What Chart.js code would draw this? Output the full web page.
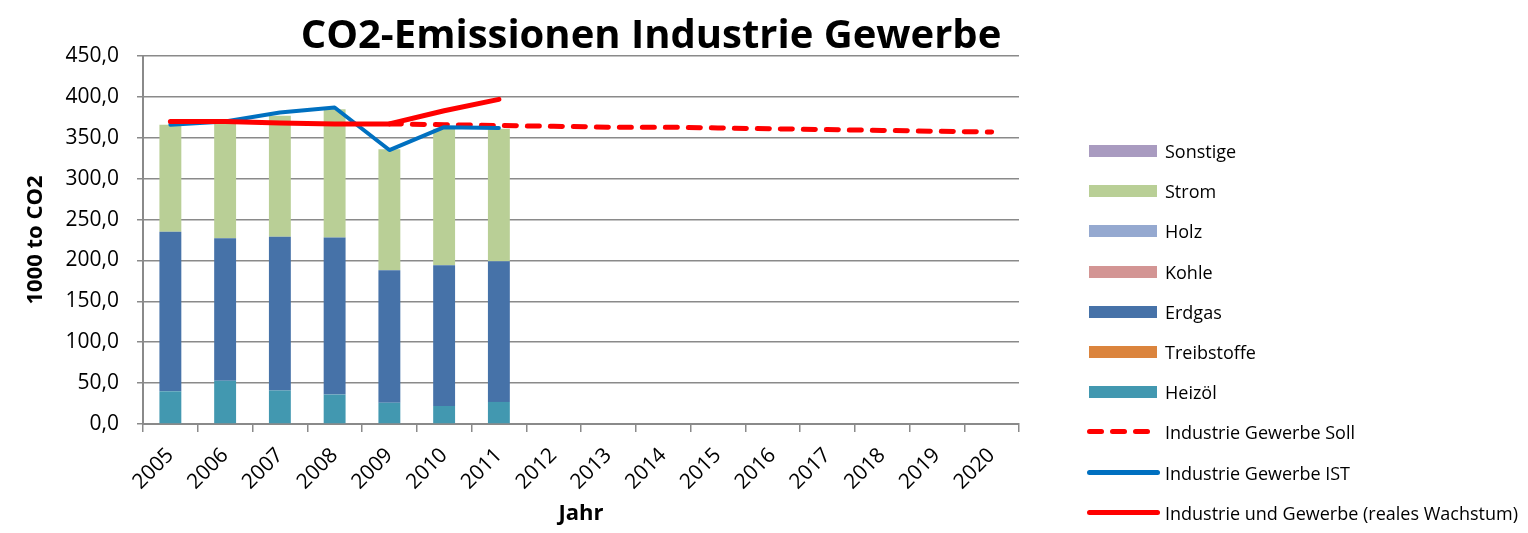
<!DOCTYPE html>
<html>
<head>
<meta charset="utf-8">
<script src="https://cdn.jsdelivr.net/npm/chart.js@4"></script>
<style>
    body { margin: 0; background: #fff; font-family: "Open Sans", sans-serif; }
    #wrap { position: relative; width: 1528px; height: 533px; }
    #title { position: absolute; left: 0; width: 1302px; top: 13px; line-height: 39px; text-align: center; font-weight: bold; font-size: 40px; color: #000; white-space: nowrap; }
    #legend { position: absolute; left: 1087px; top: 0; }
    .item { position: absolute; left: 0; height: 20px; white-space: nowrap; font-size: 18px; color: #000; }
    .item span { position: absolute; left: 78px; top: 0; line-height: 20px; }
    .swatch { position: absolute; left: 2px; top: 4px; width: 68px; height: 12px; }
    .line { position: absolute; left: 0; top: 7px; width: 73px; height: 5px; border-radius: 3px; }
    .dash { position: absolute; top: 7px; width: 17px; height: 5px; border-radius: 3px; }
</style>
</head>
<body>
<div id="wrap">
    <canvas id="co2Chart" width="1528" height="533"></canvas>
    <div id="title">CO2-Emissionen Industrie Gewerbe</div>
    <div id="legend"></div>
</div>
<script>
// Werte (1000 t CO2)
const years = ['2005', '2006', '2007', '2008', '2009', '2010', '2011', '2012', '2013', '2014', '2015', '2016', '2017', '2018', '2019', '2020'];
const heizoel = [40, 53, 41, 36, 26, 22, 27];
const treibstoffe = [0, 0, 0, 0, 0, 0, 0];
const erdgas = [195, 174, 188, 192, 162, 172, 172];
const kohle = [0, 0, 0, 0, 0, 0, 0];
const holz = [0, 0, 0, 0, 0, 0, 0];
const strom = [131, 143, 148, 157, 148, 167, 162];
const sonstige = [0, 0, 0, 0, 0, 0, 0];
const sollValues = [null, null, null, null, 367, 366, 365, 364, 363, 363, 362, 361, 360, 359, 358, 357];
const istValues = [366, 370, 381, 387, 335, 363, 362];
const realValues = [370, 370, 368, 367, 367, 383, 397];
const yTicks = [0, 50, 100, 150, 200, 250, 300, 350, 400, 450];

const gridColor = '#8a8a8a';
const fontName = 'Open Sans';

function barSet(label, data, color) {
    return {
        type: 'bar',
        label: label,
        data: data,
        backgroundColor: color,
        borderWidth: 0,
        stack: 'energie',
        order: 10,
        barPercentage: 0.4,
        categoryPercentage: 1
    };
}

function lineSet(label, data, color, width, dash, order) {
    return {
        type: 'line',
        label: label,
        data: data,
        borderColor: color,
        backgroundColor: color,
        borderWidth: width,
        borderDash: dash,
        borderCapStyle: 'round',
        borderJoinStyle: 'round',
        pointRadius: 0,
        tension: 0,
        fill: false,
        stack: label,
        order: order
    };
}

const datasets = [
    barSet('Heizöl', heizoel, '#4298b0'),
    barSet('Treibstoffe', treibstoffe, '#db843d'),
    barSet('Erdgas', erdgas, '#4672a8'),
    barSet('Kohle', kohle, '#d39594'),
    barSet('Holz', holz, '#95a9d0'),
    barSet('Strom', strom, '#b9cf96'),
    barSet('Sonstige', sonstige, '#a99bc0'),
    lineSet('Industrie Gewerbe Soll', sollValues, '#ff0000', 5, [12, 11], 3),
    lineSet('Industrie Gewerbe IST', istValues, '#0070c0', 4, [], 2),
    lineSet('Industrie und Gewerbe (reales Wachstum)', realValues, '#ff0000', 5, [], 1)
];

const chart = new Chart(document.getElementById('co2Chart'), {
    type: 'bar',
    data: { labels: years, datasets: datasets },
    options: {
        responsive: false,
        animation: false,
        layout: { padding: { top: 56, right: 509, bottom: 0, left: 0 } },
        plugins: {
            legend: { display: false },
            tooltip: { enabled: false }
        },
        scales: {
            x: {
                stacked: true,
                grid: { drawOnChartArea: false, offset: true, tickLength: 8, color: gridColor, lineWidth: 1.5 },
                border: { color: gridColor, width: 2 },
                ticks: { color: '#000', font: { family: fontName, size: 21 }, minRotation: 45, maxRotation: 45, padding: 11 },
                title: { display: true, text: 'Jahr', color: '#000', font: { family: fontName, size: 22, weight: 'bold' }, padding: { top: 0, bottom: 6 } },
                afterFit: function(scale) { scale.height = 109; }
            },
            y: {
                stacked: true,
                min: 0,
                max: 450,
                afterBuildTicks: function(scale) { scale.ticks = yTicks.map(v => ({ value: v })); },
                grid: { color: gridColor, lineWidth: 1.5, tickLength: 6 },
                border: { color: gridColor, width: 2 },
                ticks: {
                    color: '#000',
                    font: { family: fontName, size: 21 },
                    padding: 18,
                    callback: v => v.toFixed(1).replace('.', ',')
                },
                title: { display: true, text: '1000 to CO2', color: '#000', font: { family: fontName, size: 22, weight: 'bold' }, padding: { top: 23, bottom: 0 } },
                afterFit: function(scale) { scale.width = 143; }
            }
        }
    }
});

// Legende wie im Original: Balken von oben nach unten, dann die Linien
const legendEl = document.getElementById('legend');
const legendOrder = [6, 5, 4, 3, 2, 1, 0, 7, 8, 9];
legendOrder.forEach((idx, i) => {
    const ds = datasets[idx];
    const item = document.createElement('div');
    item.className = 'item';
    item.style.top = (141 + i * 40.2) + 'px';
    let mark;
    if (ds.type === 'bar') {
        mark = `<div class="swatch" style="background:${ds.backgroundColor}"></div>`;
    } else if (ds.borderDash.length) {
        mark = [0, 23, 46].map(x => `<div class="dash" style="left:${x}px;background:${ds.borderColor}"></div>`).join('');
    } else {
        mark = `<div class="line" style="background:${ds.borderColor}"></div>`;
    }
    item.innerHTML = mark + `<span>${ds.label}</span>`;
    legendEl.appendChild(item);
});
</script>
</body>
</html>
